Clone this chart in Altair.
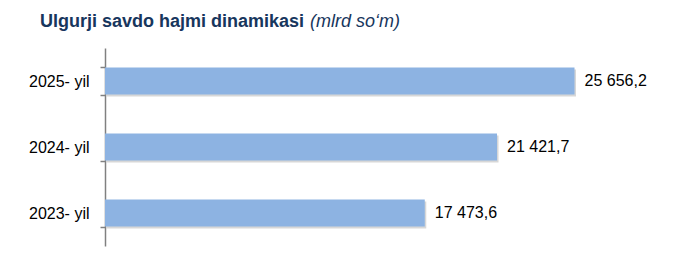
import altair as alt
import pandas as pd

years = ["2025- yil", "2024- yil", "2023- yil"]
values = [25656.2, 21421.7, 17473.6]
labels = ["25 656,2", "21 421,7", "17 473,6"]

df = pd.DataFrame({"year": years, "value": values, "label": labels})

FONT = "Liberation Sans"
NAVY = "#17365D"

y_enc = alt.Y("year:N", sort=years, title=None,
              scale=alt.Scale(paddingInner=0.59, paddingOuter=0.295),
              axis=alt.Axis(labelFont=FONT, labelFontSize=16, labelColor="#000000",
                            labelPadding=11, ticks=True, tickSize=5, tickWidth=1.5,
                            tickColor="#808080", tickOpacity=1,
                            tickBand="extent",
                            domainColor="#808080", domainWidth=1.5, grid=False))
x_enc = alt.X("value:Q", title=None, scale=alt.Scale(domain=[0, 30000]), axis=None)

base = alt.Chart(df)

shadow = base.mark_bar(color="#b0b0b0", opacity=0.5, xOffset=1.5, yOffset=2).encode(x=x_enc, y=y_enc)
bars = base.mark_bar(color="#8DB3E2").encode(x=x_enc, y=y_enc)
text = base.mark_text(align="left", baseline="middle", dx=10, font=FONT, fontSize=16,
                      color="#000000").encode(x=x_enc, y=y_enc, text="label:N")

title_df = pd.DataFrame({"t": ["Ulgurji savdo hajmi dinamikasi"]})
title_bold = alt.Chart(title_df).mark_text(align="left", baseline="alphabetic", font=FONT,
                                            fontSize=18, fontWeight="bold", color=NAVY).encode(
    x=alt.value(-65), y=alt.value(-21), text="t:N")
sub_df = pd.DataFrame({"t": ["(mlrd so‘m)"]})
title_it = alt.Chart(sub_df).mark_text(align="left", baseline="alphabetic", font=FONT,
                                        fontSize=18, fontStyle="italic", color=NAVY).encode(
    x=alt.value(205), y=alt.value(-21), text="t:N")

chart = alt.layer(shadow, bars, text, title_bold, title_it).properties(
    width=549, height=198,
    autosize=alt.AutoSizeParams(type="none"),
    padding={"left": 105, "top": 48, "right": 24, "bottom": 27},
    background="white",
).configure_view(stroke=None)

chart.save("out.html", embed_options={"renderer": "svg", "actions": False})
